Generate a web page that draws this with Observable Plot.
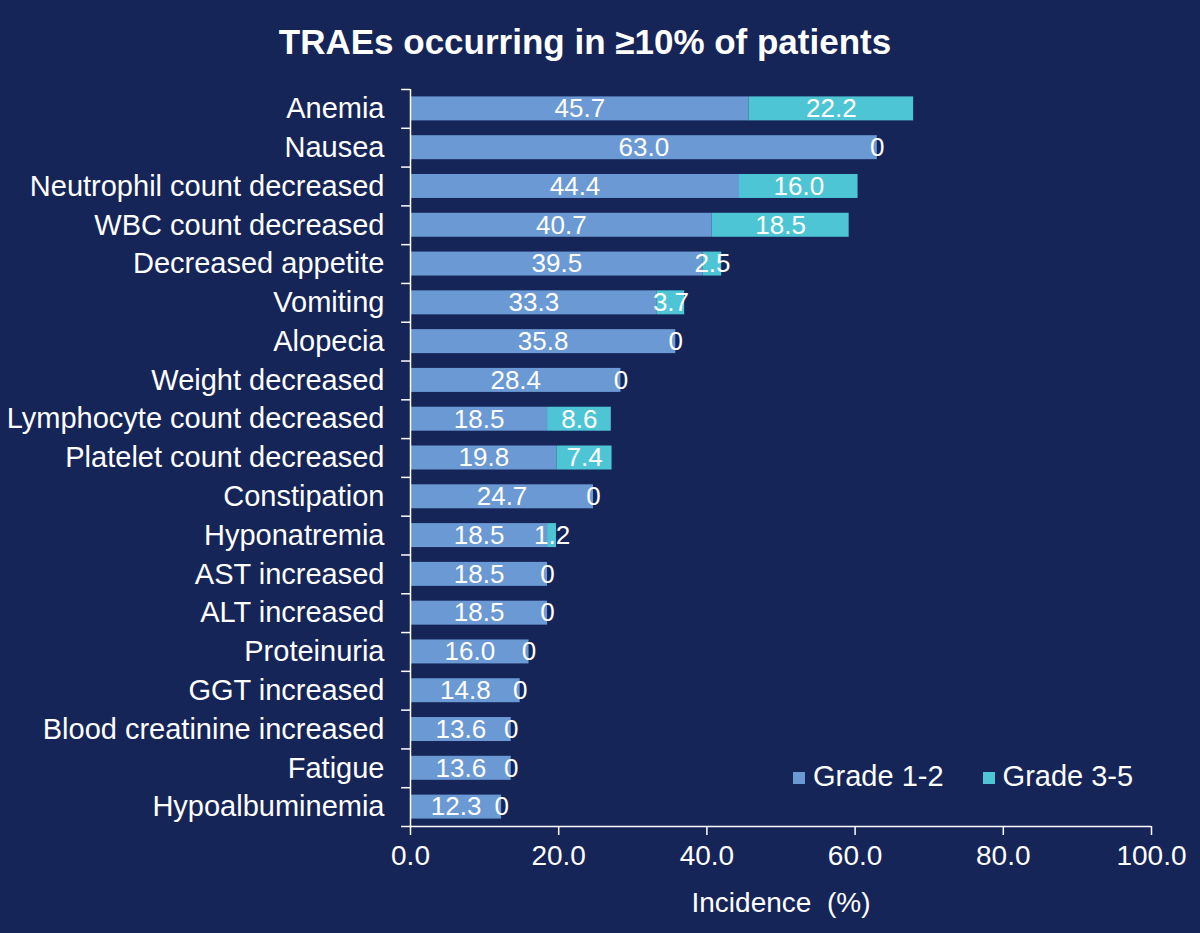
<!DOCTYPE html>
<html>
<head>
<meta charset="utf-8">
<script src="https://cdn.jsdelivr.net/npm/d3@7"></script>
<script src="https://cdn.jsdelivr.net/npm/@observablehq/plot@0.6"></script>
<style>
  html, body { margin: 0; padding: 0; background: #162558; }
  #chart { position: relative; width: 1200px; height: 933px; background: #162558;
           font-family: "Liberation Sans", Arial, sans-serif; color: #fff; overflow: hidden; }
  #title { height: 80px; box-sizing: border-box; padding-top: 22px; padding-right: 30px;
           text-align: center; font-size: 35px; font-weight: bold; line-height: 40px; }
  #plot svg { display: block; }
  #legend { position: absolute; left: 793px; top: 762px; font-size: 29px; line-height: 29px;
            display: flex; gap: 39px; white-space: nowrap; }
  .sw { display: inline-block; width: 12px; height: 12px; margin-right: 8px; vertical-align: 2px; }
</style>
</head>
<body>
<div id="chart">
  <div id="title">TRAEs occurring in ≥10% of patients</div>
  <div id="plot"></div>
  <div id="legend"></div>
</div>
<script>
// Treatment-related adverse events, incidence (%) by grade
const categories = [
  "Anemia", "Nausea", "Neutrophil count decreased", "WBC count decreased",
  "Decreased appetite", "Vomiting", "Alopecia", "Weight decreased",
  "Lymphocyte count decreased", "Platelet count decreased", "Constipation",
  "Hyponatremia", "AST increased", "ALT increased", "Proteinuria",
  "GGT increased", "Blood creatinine increased", "Fatigue", "Hypoalbuminemia"
];
const grade12 = [45.7, 63.0, 44.4, 40.7, 39.5, 33.3, 35.8, 28.4, 18.5, 19.8, 24.7, 18.5, 18.5, 18.5, 16.0, 14.8, 13.6, 13.6, 12.3];
const grade35 = [22.2, 0, 16.0, 18.5, 2.5, 3.7, 0, 0, 8.6, 7.4, 0, 1.2, 0, 0, 0, 0, 0, 0, 0];
const grades = ["Grade 1-2", "Grade 3-5"];
const colors = ["#6a99d3", "#4ec5d4"];
const xTicks = [0, 20, 40, 60, 80, 100];
const xLabel = "Incidence\u00a0 (%)";

// long-format rows for stacking
const rows = categories.flatMap((name, i) => [
  {name, grade: grades[0], value: grade12[i]},
  {name, grade: grades[1], value: grade35[i]}
]);

const W = 1200, H = 853, mt = 9, mb = 107, ml = 410, mr = 49;
const step = (H - mt - mb) / categories.length;
const last = categories[categories.length - 1];
const fmt = v => v === 0 ? "0" : v.toFixed(1);
const axisStroke = {stroke: "#fff", strokeWidth: 1.5};

const chart = Plot.plot({
  width: W, height: H,
  marginTop: mt, marginBottom: mb, marginLeft: ml, marginRight: mr,
  style: {background: "transparent", color: "#fff", fontFamily: "Liberation Sans, Arial, sans-serif", overflow: "visible"},
  x: {domain: [0, 100]},
  y: {domain: categories, padding: 0, round: false},
  color: {domain: grades, range: colors},
  marks: [
    Plot.barX(rows, Plot.stackX({x: "value", y: "name", fill: "grade", insetTop: 7.4, insetBottom: 7.4})),
    Plot.text(rows, Plot.stackX({x: "value", y: "name", z: "grade", text: d => fmt(d.value), fill: "#fff", fontSize: 26})),
    // axis lines and category separators
    Plot.ruleX([0], axisStroke),
    Plot.ruleY(categories, {y: d => d, x1: -1.2, x2: 0, dy: -step / 2, ...axisStroke}),
    Plot.ruleY([last], {y: d => d, x1: -1.2, x2: 100, dy: step / 2, ...axisStroke}),
    Plot.axisX({ticks: xTicks, tickFormat: d => d.toFixed(1), tickSize: 9, tickPadding: 10, fontSize: 28, strokeWidth: 1.5, label: null}),
    Plot.axisY({tickSize: 0, tickPadding: 26, fontSize: 29, label: null}),
    Plot.text([xLabel], {text: d => d, frameAnchor: "bottom", dy: 85, fontSize: 28, fill: "#fff"})
  ]
});
document.getElementById("plot").appendChild(chart);

// legend
const legend = document.getElementById("legend");
grades.forEach((g, i) => {
  const item = document.createElement("span");
  const sw = document.createElement("span");
  sw.className = "sw";
  sw.style.background = colors[i];
  item.appendChild(sw);
  item.appendChild(document.createTextNode(g));
  legend.appendChild(item);
});
</script>
</body>
</html>
